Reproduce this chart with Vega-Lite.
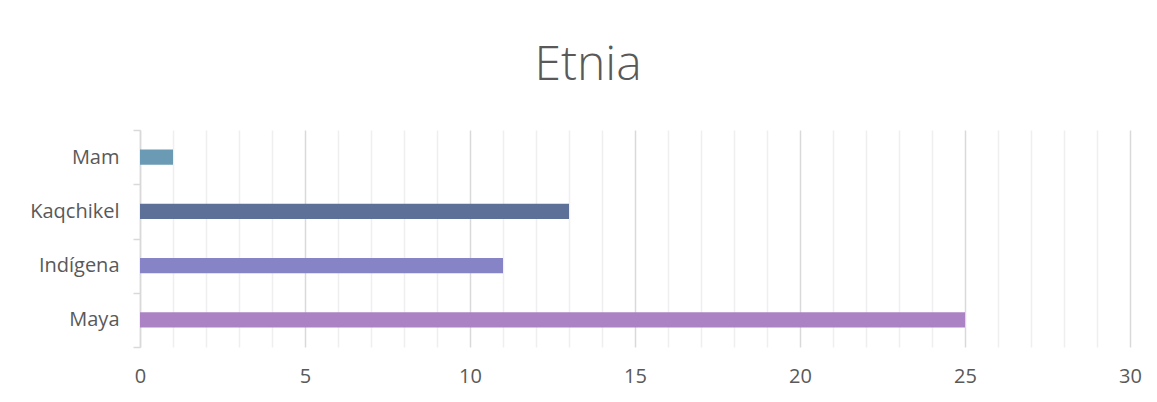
{
  "$schema": "https://vega.github.io/schema/vega-lite/v6.json",
  "width": 990,
  "height": 217,
  "autosize": {"type": "none"},
  "padding": {"left": 140, "top": 130, "right": 27, "bottom": 55},
  "background": "white",
  "title": {
    "text": "Etnia",
    "fontSize": 48,
    "font": "Open Sans",
    "fontWeight": 300,
    "color": "#595959",
    "anchor": "middle",
    "dx": -47,
    "baseline": "alphabetic",
    "offset": -8
  },
  "data": {
    "values": [
      {"etnia": "Mam", "n": 1},
      {"etnia": "Kaqchikel", "n": 13},
      {"etnia": "Indígena", "n": 11},
      {"etnia": "Maya", "n": 25}
    ]
  },
  "config": {"view": {"stroke": null}},
  "mark": {"type": "bar", "height": {"band": 0.28}},
  "encoding": {
    "y": {
      "field": "etnia",
      "type": "nominal",
      "sort": ["Mam", "Kaqchikel", "Indígena", "Maya"],
      "scale": {"paddingInner": 0, "paddingOuter": 0},
      "axis": {
        "title": null,
        "tickBand": "extent",
        "domainColor": "#d9d9d9",
        "domainWidth": 1.5,
        "tickColor": "#d9d9d9",
        "tickWidth": 1.5,
        "tickSize": 7,
        "labelFont": "Open Sans",
        "labelFontSize": 20,
        "labelColor": "#595959",
        "labelPadding": 14,
        "grid": false
      }
    },
    "x": {
      "field": "n",
      "type": "quantitative",
      "scale": {"domain": [0, 30], "nice": false},
      "axis": {
        "title": null,
        "values": [0,1,2,3,4,5,6,7,8,9,10,11,12,13,14,15,16,17,18,19,20,21,22,23,24,25,26,27,28,29,30],
        "labelExpr": "datum.value % 5 === 0 ? datum.label : ''",
        "labelFlush": false,
        "labelOverlap": false,
        "grid": true,
        "gridColor": {"condition": {"test": "datum.value % 5 === 0", "value": "#d9d9d9"}, "value": "#efefef"},
        "gridWidth": 1.5,
        "ticks": false,
        "domain": false,
        "labelFont": "Open Sans",
        "labelFontSize": 20,
        "labelColor": "#595959",
        "labelPadding": 19
      }
    },
    "color": {
      "field": "etnia",
      "type": "nominal",
      "scale": {
        "domain": ["Mam", "Kaqchikel", "Indígena", "Maya"],
        "range": ["#6b9bb4", "#5d7097", "#8684c6", "#ab83c5"]
      },
      "legend": null
    }
  }
}
